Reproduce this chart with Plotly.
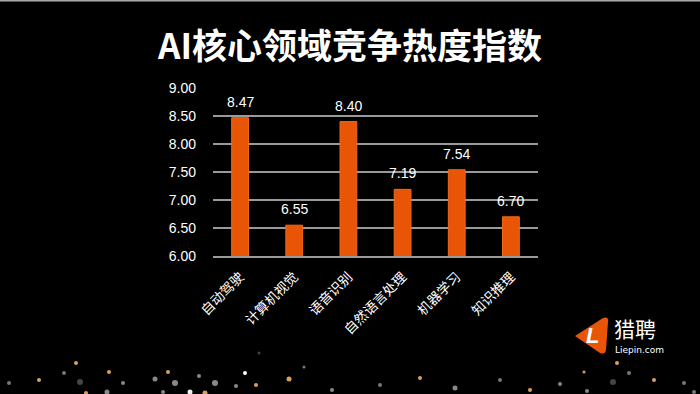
import plotly.graph_objects as go

categories = ["自动驾驶", "计算机视觉", "语音识别", "自然语言处理", "机器学习", "知识推理"]
values = [8.47, 6.55, 8.40, 7.19, 7.54, 6.70]
y_ticks = [6.0, 6.5, 7.0, 7.5, 8.0, 8.5, 9.0]
y_tick_labels = ["6.00", "6.50", "7.00", "7.50", "8.00", "8.50", "9.00"]
title_text = "AI核心领域竞争热度指数"

FONT = "Noto Sans CJK SC, Noto Sans, sans-serif"
NUMFONT = "Liberation Sans, sans-serif"
ORANGE = "#E95506"

L, R, T, B = 213, 162, 88, 138
W_plot = 700 - L - R
H_plot = 394 - T - B
def px(x):
    return (x - L) / W_plot
def py(y):
    return (394 - B - y) / H_plot

fig = go.Figure()
fig.add_trace(go.Bar(
    x=categories, y=values,
    marker=dict(color=ORANGE, line=dict(color="#F06A1A", width=1)),
    width=0.31,
    cliponaxis=False,
))

# value labels above bars
for c, v in zip(categories, values):
    fig.add_annotation(x=c, y=v, xref="x", yref="y", text=f"{v:.2f}", showarrow=False,
                       yanchor="bottom", xanchor="center", yshift=6,
                       font=dict(color="white", size=14, family=NUMFONT))

# decorative sparkle dots (pixel positions, colour, radius)
sparkles = [
    (76, 363, "#d9a05b", 2), (64, 373, "#777", 2), (109, 372, "#d9a05b", 2), (9, 383, "#777", 2),
    (39, 380, "#d9a05b", 2), (80, 382, "#444", 3), (123, 383, "#888", 2), (155, 379, "#888", 2.5),
    (168, 372, "#d9a05b", 2), (175, 383, "#888", 3), (199, 376, "#888", 2), (215, 383, "#888", 3),
    (190, 392, "#eee", 2.5), (205, 393, "#d9a05b", 2.5), (245, 373, "#fff", 2), (256, 385, "#d9a05b", 2),
    (289, 379, "#d9a05b", 2.5), (259, 353, "#444", 1.5), (236, 386, "#888", 2), (107, 392, "#888", 2.5),
    (86, 393, "#d9a05b", 2), (163, 392, "#888", 2), (332, 390, "#888", 2), (304, 367, "#777", 1.5),
    (617, 363, "#d9a05b", 2), (584, 372, "#d9a05b", 1.5), (629, 373, "#777", 2), (613, 382, "#444", 3),
    (654, 380, "#d9a05b", 2), (684, 383, "#777", 2), (587, 391, "#888", 2), (694, 392, "#777", 2),
    (380, 385, "#777", 2), (420, 378, "#d9a05b", 2), (455, 388, "#888", 2.5), (500, 380, "#777", 2),
    (530, 390, "#d9a05b", 2), (560, 384, "#888", 2),
]

shapes = [
    dict(type="line", xref="paper", yref="paper", x0=px(-5), x1=px(705), y0=py(0.7), y1=py(0.7),
         line=dict(color="#aaaaaa", width=1.5), layer="above"),
]
for (sx, sy, sc, sr) in sparkles:
    shapes.append(dict(type="circle", xref="paper", yref="paper",
                       x0=px(sx - sr), x1=px(sx + sr), y0=py(sy + sr), y1=py(sy - sr),
                       fillcolor=sc, line=dict(width=0), layer="above"))

tri = (f"M {px(575)} {py(336)} L {px(603)} {py(318)} Q {px(609)} {py(316)} {px(608)} {py(322)} "
       f"L {px(606)} {py(350)} Q {px(605)} {py(355)} {px(600)} {py(353)} Z")
shapes.append(dict(type="path", xref="paper", yref="paper", layer="above",
                   path=tri, fillcolor=ORANGE, line=dict(width=0)))

fig.update_layout(
    width=700, height=394,
    paper_bgcolor="black", plot_bgcolor="black",
    margin=dict(l=L, r=R, t=T, b=B),
    showlegend=False,
    xaxis=dict(
        tickangle=-45, tickfont=dict(color="#ffffff", size=13.5, family=FONT),
        showgrid=False, showline=True, linecolor="#9a9a9a", linewidth=1.5,
        ticks="", ticklabelstandoff=6, fixedrange=True,
    ),
    yaxis=dict(
        range=[6.0, 9.0], tickvals=y_ticks, ticktext=y_tick_labels,
        tickfont=dict(color="white", size=14, family=NUMFONT),
        showgrid=True, gridcolor="#9a9a9a", gridwidth=1.5,
        zeroline=False, showline=False, ticks="", ticklabelstandoff=16,
        automargin=False, fixedrange=True,
    ),
    title=dict(
        text=f"<b>{title_text}</b>", x=0.5, xanchor="center", y=1 - 47 / 394, yanchor="middle",
        font=dict(color="white", size=35, family=FONT),
    ),
    shapes=shapes,
)

fig.add_annotation(xref="paper", yref="paper", x=px(592), y=py(335), text="<b><i>L</i></b>",
                   showarrow=False, font=dict(color="white", size=22, family=NUMFONT),
                   xanchor="center", yanchor="middle")
fig.add_annotation(xref="paper", yref="paper", x=px(612), y=py(328), text="猎聘",
                   showarrow=False, font=dict(color="white", size=21, family=FONT),
                   xanchor="left", yanchor="middle")
fig.add_annotation(xref="paper", yref="paper", x=px(613), y=py(350), text="Liepin.com",
                   showarrow=False, font=dict(color="white", size=9, family="DejaVu Sans, sans-serif"),
                   xanchor="left", yanchor="middle")

fig.write_html("out.html", config={"displayModeBar": False},
               post_script="document.body.style.margin='0';")
